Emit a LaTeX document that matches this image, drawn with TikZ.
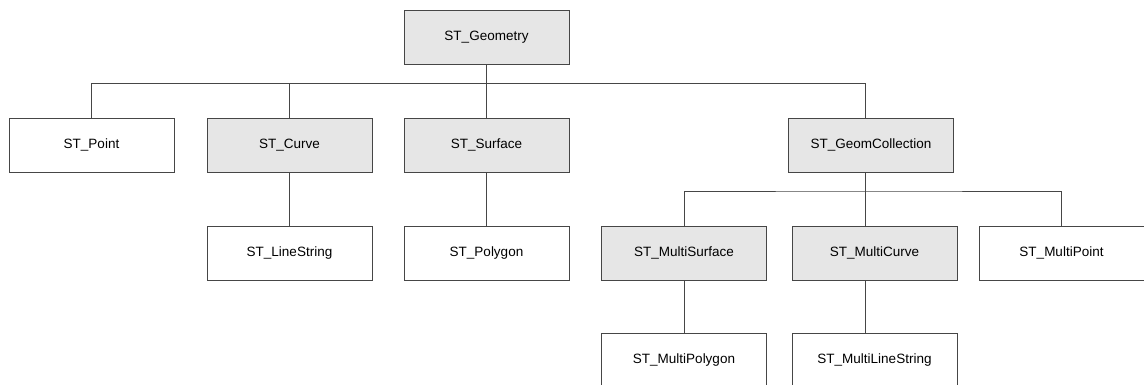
\documentclass[tikz,border=0pt]{standalone}
\usepackage{fontspec}
\setmainfont{Liberation Sans}
\usepackage{tikz}
\definecolor{boxgray}{RGB}{230,230,230}
\definecolor{edge}{RGB}{70,70,70}
\tikzset{
  cls/.style={draw=edge, line width=0.9pt, fill=white, minimum width=165pt,
    minimum height=54pt, inner sep=0pt, font=\fontsize{13.5}{16}\selectfont},
  abscls/.style={cls, fill=boxgray},
  link/.style={draw=edge, line width=0.9pt}
}
\begin{document}
\begin{tikzpicture}[x=1pt,y=-1pt]
\useasboundingbox (0,0) rectangle (1144,385);
% top level
\node[abscls] (geo) at (486.5,37.5) {ST\_Geometry};
% first level
\node[cls]    (pt) at (91.5,145)  {ST\_Point};
\node[abscls] (cu) at (289.5,145) {ST\_Curve};
\node[abscls] (su) at (486.5,145) {ST\_Surface};
\node[abscls] (gc) at (871,145)   {ST\_GeomCollection};
% second level
\node[cls]    (ls) at (289.5,253) {ST\_LineString};
\node[cls]    (pg) at (486.5,253) {ST\_Polygon};
\node[abscls] (ms) at (684,253)   {ST\_MultiSurface};
\node[abscls] (mc) at (874.5,253) {ST\_MultiCurve};
\node[cls]    (mp) at (1061.5,253) {ST\_MultiPoint};
% third level
\node[cls]    (mpg) at (684,360)   {ST\_MultiPolygon};
\node[cls]    (mls) at (874.5,360) {ST\_MultiLineString};
% buses
\coordinate (bus1) at (486.5,83);
\coordinate (bus2) at (865,191);
\foreach \c in {pt,cu,su}{
  \draw[link] (\c.north) |- (bus1);
}
\draw[link] ([xshift=-6pt]gc.north) |- (bus1) -- (geo.south);
\draw[link] (ms.north) |- (bus2) -| (mp.north);
\draw[link] ([xshift=-6pt]gc.south) -- ([xshift=-9.5pt]mc.north);
\draw[link] (cu.south) -- (ls.north);
\draw[link] (su.south) -- (pg.north);
\draw[link] (ms.south) -- (mpg.north);
\draw[link] ([xshift=-9.5pt]mc.south) -- ([xshift=-9.5pt]mls.north);
\end{tikzpicture}
\end{document}
